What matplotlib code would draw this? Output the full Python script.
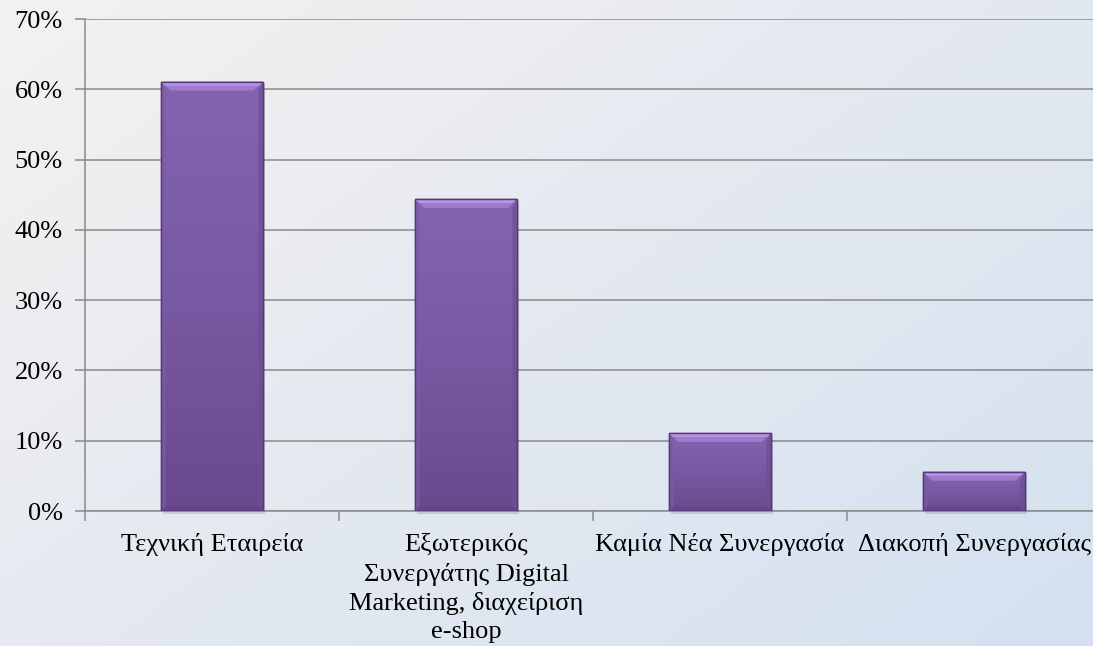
import numpy as np
import matplotlib.pyplot as plt
from matplotlib.colors import LinearSegmentedColormap
from matplotlib.patches import Polygon

plt.rcParams.update(
    {
        "font.family": ["Liberation Serif", "DejaVu Serif"],
        "font.size": 19,
    }
)

categories = [
    "Τεχνική Εταιρεία",
    "Εξωτερικός\nΣυνεργάτης Digital\nMarketing, διαχείριση\ne-shop",
    "Καμία Νέα Συνεργασία",
    "Διακοπή Συνεργασίας",
]
shares = [0.611, 0.444, 0.111, 0.056]
y_ticks = [0.0, 0.1, 0.2, 0.3, 0.4, 0.5, 0.6, 0.7]
y_labels = ["0%", "10%", "20%", "30%", "40%", "50%", "60%", "70%"]

W, H = 1093, 646
fig = plt.figure(figsize=(W / 100, H / 100), dpi=100)

# diagonal background wash, warm white to pale blue
bg = fig.add_axes([0, 0, 1, 1], zorder=-10)
gx, gy = np.meshgrid(np.linspace(0, 1, 300), np.linspace(0, 1, 200))
t = np.clip(0.55 * gx + 0.45 * gy, 0, 1)
c0 = np.array([244, 241, 241]) / 255
c1 = np.array([212, 225, 240]) / 255
img = c0[None, None, :] * (1 - t[..., None]) + c1[None, None, :] * t[..., None]
bg.imshow(img, extent=(0, 1, 0, 1), aspect="auto", origin="upper")
bg.axis("off")

left, bottom = 85 / W, (H - 511) / H
ax = fig.add_axes([left, bottom, 1016 / W, 492 / H])
ax.patch.set_alpha(0)

x = np.arange(len(categories))
width = 0.4
bars = ax.bar(x, shares, width=width, color="#7a5aa6", edgecolor="#55397a",
              linewidth=1.0, zorder=3)

body = LinearSegmentedColormap.from_list("body", ["#6a4a8d", "#7859a3", "#8464b1"])
px_y = 0.1 / 70.3  # data units per pixel, vertical
px_x = 1.0 / 254   # data units per pixel, horizontal
bev = 9
for b, v in zip(bars, shares):
    x0, x1 = b.get_x(), b.get_x() + b.get_width()
    grad = np.linspace(1, 0, 100).reshape(-1, 1)
    im = ax.imshow(grad, cmap=body, extent=(x0, x1, 0, v), aspect="auto",
                   origin="upper", zorder=3.1)
    im.set_clip_path(b)
    dx, dy = bev * px_x, bev * px_y
    # top bevel
    ax.add_patch(Polygon([(x0, v), (x1, v), (x1 - dx, v - dy), (x0 + dx, v - dy)],
                         closed=True, facecolor="#9d7bcd", edgecolor="none", zorder=3.2))
    ax.add_patch(Polygon([(x0, v), (x1, v), (x1 - 0.4 * dx, v - 0.45 * dy),
                          (x0 + 0.4 * dx, v - 0.45 * dy)],
                         closed=True, facecolor="#b894e4", edgecolor="none", zorder=3.3))
    # side and bottom bevels
    ax.add_patch(Polygon([(x0, v), (x0 + 0.5 * dx, v - dy), (x0 + 0.5 * dx, 0.5 * dy), (x0, 0)],
                         closed=True, facecolor="#7b5ba6", alpha=0.7, edgecolor="none", zorder=3.2))
    ax.add_patch(Polygon([(x1, v), (x1 - 0.5 * dx, v - dy), (x1 - 0.5 * dx, 0.5 * dy), (x1, 0)],
                         closed=True, facecolor="#6d4e95", alpha=0.7, edgecolor="none", zorder=3.2))
    ax.add_patch(Polygon([(x0, 0), (x1, 0), (x1 - 0.5 * dx, 0.5 * dy), (x0 + 0.5 * dx, 0.5 * dy)],
                         closed=True, facecolor="#5f4283", alpha=0.6, edgecolor="none", zorder=3.2))
    ax.add_patch(plt.Rectangle((x0, 0), x1 - x0, v, facecolor="none",
                               edgecolor="#55397a", linewidth=1.0, zorder=3.4))
    # soft drop shadow
    ax.add_patch(plt.Rectangle((x0 + 2 * px_x, -3 * px_y), x1 - x0, v,
                               facecolor="#000000", alpha=0.12, edgecolor="none",
                               zorder=2.9, clip_on=False))

ax.set_xlim(-0.5, 3.5)
ax.set_ylim(0, 0.7)
ax.set_yticks(y_ticks)
ax.set_yticklabels(y_labels)
ax.yaxis.grid(True, color="#8a8a8a", linewidth=1.1, zorder=1)
ax.set_axisbelow(True)

ax.set_xticks(x)
ax.set_xticklabels(categories, linespacing=1.36)
ax.set_xticks(np.arange(-0.5, 3.6, 1.0), minor=True)
ax.tick_params(axis="x", which="major", length=0, pad=16)
ax.tick_params(axis="x", which="minor", length=7, color="#8a8a8a", width=1.1)
ax.tick_params(axis="y", length=7, color="#8a8a8a", width=1.1, pad=9)

for side in ("top", "right"):
    ax.spines[side].set_visible(False)
for side in ("left", "bottom"):
    ax.spines[side].set_color("#8a8a8a")
    ax.spines[side].set_linewidth(1.1)

fig.savefig("out.png", dpi=100)
